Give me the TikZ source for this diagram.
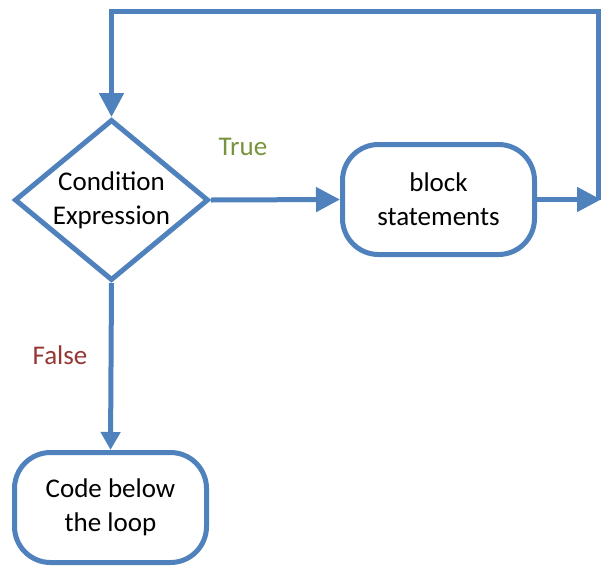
\documentclass[tikz,border=0pt]{standalone}
\usepackage{fontspec}
\setmainfont{Carlito}
\usetikzlibrary{arrows.meta, shapes.geometric}
\definecolor{flowblue}{RGB}{79, 129, 189}
\definecolor{truegreen}{RGB}{119, 147, 60}
\definecolor{falsered}{RGB}{149, 55, 53}

\begin{document}
\begin{tikzpicture}[
  x=1pt, y=-1pt,
  every node/.style={font=\fontsize{27}{34}\selectfont},
  cond/.style={
    diamond, aspect=1.2, draw=flowblue, fill=white, line width=5pt,
    minimum width=194pt, minimum height=161pt, inner sep=0pt, align=center
  },
  box/.style={
    draw=flowblue, fill=white, line width=5pt, rounded corners=36pt,
    minimum width=192pt, minimum height=110pt, align=center
  },
  arrow/.style={-{Triangle[length=24pt, width=24pt]}, line width=5pt, color=flowblue},
  small arrow/.style={-{Triangle[length=18pt, width=19pt]}, line width=5pt, color=flowblue},
  label/.style={font=\fontsize{27}{30}\selectfont}
]
\useasboundingbox (0,0) rectangle (601,565);

  % Nodes
\node[cond] (cond) at (111.5, 200) {Condition\\Expression};
\node[box] (block) at (438.5, 199.5) {block\\statements};
\node[box] (below) at (110.5, 507.5) {Code below\\the loop};
\coordinate (edge) at (601, 199.5);
\coordinate (corner) at (598, 11.5);

  % Arrows
  \draw[arrow] (cond.east) -- (block.west);
  \draw[arrow] (block.east) -- (edge);
  \draw[arrow] (corner |- block) -- (corner) -| (cond.north);
  \draw[small arrow] (cond.south) -- (below.north);

  % Labels
\node[label, text=truegreen] (true) at (243, 147) {True};
\node[label, text=falsered] (false) at (60, 355) {False};

\end{tikzpicture}
\end{document}
